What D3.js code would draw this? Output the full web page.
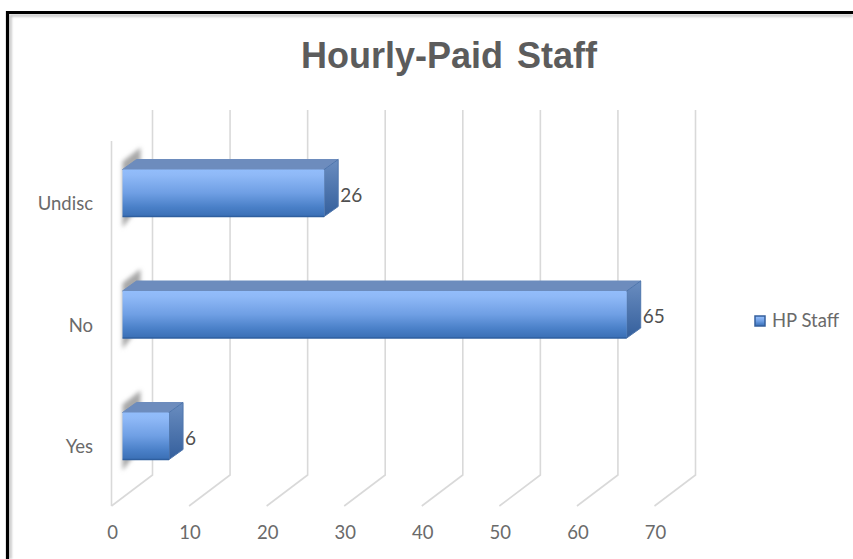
<!DOCTYPE html>
<html>
<head>
<meta charset="utf-8">
<script src="https://cdn.jsdelivr.net/npm/d3@7"></script>
<style>
  html, body { margin: 0; padding: 0; background: #fff; }
  svg { display: block; }
</style>
</head>
<body>
<svg id="chart" width="853" height="559"></svg>
<script>
const categories = ['Undisc', 'No', 'Yes'];
const hpStaff = [26, 65, 6];
const xTicks = [0, 10, 20, 30, 40, 50, 60, 70];

const DEPTH_FLOOR = { dx: 41, dy: -31 };
const DEPTH_BAR = { dx: 14, dy: -10 };
const BAR_H = 47;
const BAR_X0 = 122.5;
const FLOOR_Y = 506;
const WALL_TOP = 110;

const TEXT_GRAY = '#6a6a6a';
const GRID = '#d9d9d9';
const FONT = 'Lato';

const svg = d3.select('#chart');
const defs = svg.append('defs');

function vGrad(id, stops) {
  const g = defs.append('linearGradient').attr('id', id)
    .attr('x1', 0).attr('y1', 0).attr('x2', 0).attr('y2', 1);
  stops.forEach(s => g.append('stop').attr('offset', s[0]).attr('stop-color', s[1]));
}
vGrad('bar-front', [[0, '#92bdfb'], [0.12, '#8fb9f7'], [0.5, '#6f9fe4'], [0.8, '#4a80c8'], [1, '#3a6fb5']]);
vGrad('bar-side', [[0, '#6a8dc0'], [1, '#345f9c']]);
defs.append('filter').attr('id', 'soft').attr('x', '-60%').attr('y', '-20%').attr('width', '220%').attr('height', '140%')
  .append('feGaussianBlur').attr('stdDeviation', 2.2);
defs.append('filter').attr('id', 'soft-edge').attr('x', '-1%').attr('y', '-1%').attr('width', '102%').attr('height', '102%')
  .append('feGaussianBlur').attr('stdDeviation', 0.8);

// frame of the screenshot: top and left edges only, the rest is cropped
const frame = svg.append('g');
frame.append('path')
  .attr('d', 'M10.5,559 V15.5 H853')
  .attr('fill', 'none')
  .attr('stroke', '#b8b8b8')
  .attr('stroke-width', 2)
  .attr('filter', 'url(#soft-edge)');
frame.append('path')
  .attr('d', 'M7.5,559 V12.5 H853')
  .attr('fill', 'none')
  .attr('stroke', '#000')
  .attr('stroke-width', 3.2);

const x = d3.scaleLinear().domain([0, 70]).range([112, 655]);
const y = d3.scalePoint().domain(categories).range([193, 436]);
const barW = d => x(d) - x(0);

// walls and floor grid
const grid = svg.append('g').attr('fill', 'none').attr('stroke', GRID).attr('stroke-width', 1.6);
xTicks.forEach(t => {
  const x0 = x(t) - 0.5;
  const pts = [[x0, FLOOR_Y], [x0 + DEPTH_FLOOR.dx, FLOOR_Y + DEPTH_FLOOR.dy], [x0 + DEPTH_FLOOR.dx, WALL_TOP]];
  grid.append('path').attr('d', d3.line()(pts));
});
grid.append('line').attr('x1', x(0) - 0.5).attr('x2', x(0) - 0.5).attr('y1', FLOOR_Y).attr('y2', 141);

// bars, with the shadow they throw on the left wall
const rows = categories.map((c, i) => ({ cat: c, value: hpStaff[i] }));
const bar = svg.append('g').selectAll('g').data(rows).join('g')
  .attr('transform', d => `translate(${BAR_X0},${y(d.cat) - BAR_H / 2})`);

bar.append('path')
  .attr('d', `M0,-8 L18,-22 L18,${BAR_H - 12} L0,${BAR_H + 11} Z`)
  .attr('fill', '#a8a8a8')
  .attr('filter', 'url(#soft)');

bar.append('path')
  .attr('d', d => `M0,0 L${DEPTH_BAR.dx},${DEPTH_BAR.dy} H${barW(d.value) + DEPTH_BAR.dx} L${barW(d.value)},0 Z`)
  .attr('fill', '#6d8cbd')
  .attr('stroke', '#6d8cbd')
  .attr('stroke-linejoin', 'round');

bar.append('path')
  .attr('d', d => {
    const w = barW(d.value);
    return `M${w},0 L${w + DEPTH_BAR.dx},${DEPTH_BAR.dy} V${BAR_H + DEPTH_BAR.dy} L${w},${BAR_H} Z`;
  })
  .attr('fill', 'url(#bar-side)')
  .attr('stroke', '#4f76ad')
  .attr('stroke-linejoin', 'round');

bar.append('rect')
  .attr('width', d => barW(d.value))
  .attr('height', BAR_H)
  .attr('rx', 1)
  .attr('fill', 'url(#bar-front)');

bar.append('line')
  .attr('x1', 0).attr('x2', d => barW(d.value))
  .attr('y1', BAR_H).attr('y2', BAR_H)
  .attr('stroke', '#2f5f9f').attr('stroke-width', 1.5);

// value labels
bar.append('text')
  .attr('x', d => barW(d.value) + 16)
  .attr('y', BAR_H / 2 + 4)
  .attr('dominant-baseline', 'middle')
  .attr('fill', '#505050')
  .attr('font-family', FONT)
  .attr('font-size', 19)
  .text(d => d.value);

// axes, only the labels are visible
svg.append('g')
  .attr('transform', 'translate(0,525)')
  .call(d3.axisBottom(x).tickValues(xTicks).tickSize(0).tickPadding(1))
  .call(a => a.select('.domain').remove())
  .call(a => a.selectAll('text').attr('fill', TEXT_GRAY).attr('font-family', FONT).attr('font-size', 18.5));

svg.append('g')
  .attr('transform', 'translate(93,11)')
  .call(d3.axisLeft(y).tickSize(0).tickPadding(0))
  .call(a => a.select('.domain').remove())
  .call(a => a.selectAll('text').attr('fill', TEXT_GRAY).attr('font-family', FONT).attr('font-size', 18.5));

// title
svg.append('text')
  .attr('x', 449)
  .attr('y', 68)
  .attr('text-anchor', 'middle')
  .attr('fill', '#5c5c5c')
  .attr('font-family', 'Liberation Sans')
  .attr('font-weight', 700)
  .attr('font-size', 36)
  .attr('word-spacing', 4)
  .text('Hourly-Paid Staff');

// legend
const legend = svg.append('g').attr('transform', 'translate(755,316)');
legend.append('rect')
  .attr('width', 10).attr('height', 10)
  .attr('fill', 'url(#bar-front)')
  .attr('stroke', '#345f9c').attr('stroke-width', 1.5);
legend.append('text')
  .attr('x', 17).attr('y', 6)
  .attr('dominant-baseline', 'middle')
  .attr('fill', TEXT_GRAY)
  .attr('font-family', FONT)
  .attr('font-size', 18.5)
  .text('HP Staff');
</script>
</body>
</html>
